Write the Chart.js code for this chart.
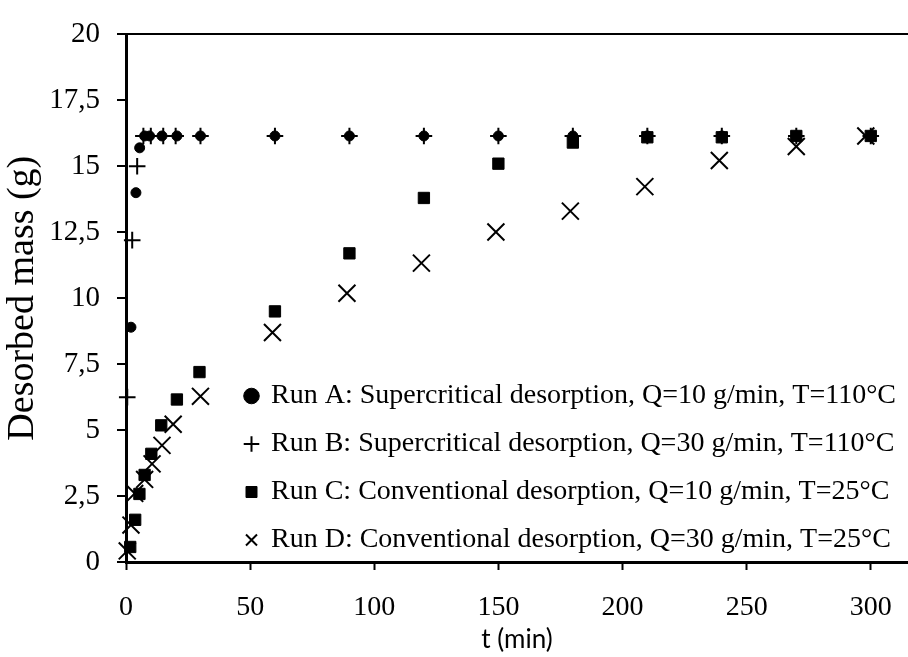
<!DOCTYPE html>
<html>
<head>
<meta charset="utf-8">
<script src="https://cdn.jsdelivr.net/npm/chart.js@4.4.0/dist/chart.umd.min.js"></script>
<style>
  body { margin: 0; background: #fff; }
  #wrap { width: 908px; height: 657px; }
</style>
</head>
<body>
<div id="wrap"><canvas id="desorption" width="908" height="657"></canvas></div>
<script>
// time (min) and desorbed mass (g)
const runA_t = [2, 4, 5.5, 7.5, 9.5, 14.5, 20.5, 30, 60, 90, 120, 150, 180, 210, 240, 270, 300];
const runA_m = [8.9, 14.0, 15.7, 16.15, 16.15, 16.15, 16.15, 16.15, 16.15, 16.15, 16.15, 16.15, 16.15, 16.15, 16.15, 16.15, 16.15];

const runB_t = [0.5, 2.5, 4.5, 7, 10, 15, 20, 30, 60, 90, 120, 150, 180, 210, 240, 270, 300];
const runB_m = [6.25, 12.2, 15.0, 16.15, 16.15, 16.15, 16.15, 16.15, 16.15, 16.15, 16.15, 16.15, 16.15, 16.15, 16.15, 16.15, 16.15];

const runC_t = [1.7, 3.7, 5.4, 7.5, 10.2, 14.2, 20.5, 29.6, 60, 90, 120, 150, 180, 210, 240, 270, 300];
const runC_m = [0.57, 1.6, 2.58, 3.3, 4.1, 5.18, 6.16, 7.2, 9.5, 11.7, 13.8, 15.1, 15.9, 16.1, 16.1, 16.15, 16.15];

const runD_t = [0.5, 2, 3.5, 7.5, 10.5, 14.5, 19, 30, 59, 89, 119, 149, 179, 209, 239, 270, 298];
const runD_m = [0.42, 1.4, 2.6, 3.13, 3.72, 4.42, 5.22, 6.28, 8.7, 10.19, 11.33, 12.51, 13.3, 14.23, 15.22, 15.75, 16.15];

const labels = [
    'Run A: Supercritical desorption, Q=10 g/min, T=110°C',
    'Run B: Supercritical desorption, Q=30 g/min, T=110°C',
    'Run C: Conventional desorption, Q=10 g/min, T=25°C',
    'Run D: Conventional desorption, Q=30 g/min, T=25°C'
];

const yTicks = [0, 2.5, 5, 7.5, 10, 12.5, 15, 17.5, 20];
const xTicks = [0, 50, 100, 150, 200, 250, 300];

function pts(t, m) {
    return t.map((v, i) => ({ x: v, y: m[i] }));
}

const serif = 'Liberation Serif';

// move the legend into the lower right part of the plot
const legendShift = {
    id: 'legendShift',
    afterLayout(chart) {
        chart.legend.left = chart.chartArea.left + 100;
        chart.legend.bottom = chart.chartArea.bottom + 12;
    }
};

const ctx = document.getElementById('desorption').getContext('2d');
const chart = new Chart(ctx, {
    type: 'scatter',
    data: {
        datasets: [
            {
                label: labels[0],
                data: pts(runA_t, runA_m),
                pointStyle: 'circle',
                pointRadius: 5,
                backgroundColor: '#000',
                borderColor: '#000',
                borderWidth: 1,
                clip: false
            },
            {
                label: labels[1],
                data: pts(runB_t, runB_m),
                pointStyle: 'cross',
                pointRadius: 8.3,
                backgroundColor: '#000',
                borderColor: '#000',
                borderWidth: 2,
                clip: false
            },
            {
                label: labels[2],
                data: pts(runC_t, runC_m),
                pointStyle: 'rect',
                pointRadius: 8,
                backgroundColor: '#000',
                borderColor: '#000',
                borderWidth: 1,
                clip: false
            },
            {
                label: labels[3],
                data: pts(runD_t, runD_m),
                pointStyle: 'crossRot',
                pointRadius: 12,
                backgroundColor: '#000',
                borderColor: '#000',
                borderWidth: 2,
                clip: false
            }
        ]
    },
    options: {
        responsive: false,
        animation: false,
        layout: { autoPadding: false, padding: { top: 32, left: 0, right: 0, bottom: 0 } },
        plugins: {
            tooltip: { enabled: false },
            legend: {
                position: 'chartArea',
                align: 'end',
                labels: {
                    usePointStyle: true,
                    boxWidth: 11,
                    boxHeight: 11,
                    padding: 20,
                    color: '#000',
                    font: { family: serif, size: 28 }
                }
            }
        },
        scales: {
            x: {
                type: 'linear',
                min: 0,
                max: 315,
                afterBuildTicks: (axis) => {
                    axis.ticks = xTicks.map(v => ({ value: v }));
                },
                afterFit: (scale) => {
                    scale.height = 95;
                    scale.paddingRight = 0;
                    scale.paddingLeft = 0;
                },
                border: { color: '#000', width: 3 },
                grid: { drawOnChartArea: false, tickLength: 8, tickColor: '#000', tickWidth: 2 },
                ticks: { color: '#000', padding: 21, maxRotation: 0, font: { family: serif, size: 28 } },
                title: {
                    display: true,
                    text: 't (min)',
                    color: '#000',
                    padding: { top: 0, bottom: 2 },
                    font: { family: 'Lato', size: 26 }
                }
            },
            y: {
                type: 'linear',
                min: 0,
                max: 20,
                afterBuildTicks: (axis) => {
                    axis.ticks = yTicks.map(v => ({ value: v }));
                },
                afterFit: (scale) => { scale.width = 126; },
                border: { color: '#000', width: 3 },
                grid: {
                    color: (c) => (c.tick && c.tick.value === 20 ? '#000' : 'rgba(0,0,0,0)'),
                    lineWidth: 2,
                    tickLength: 9,
                    tickColor: '#000',
                    tickWidth: 2
                },
                ticks: {
                    color: '#000',
                    padding: 17,
                    font: { family: serif, size: 29 },
                    callback: (v) => String(v).replace('.', ',')
                },
                title: {
                    display: true,
                    text: 'Desorbed mass (g)',
                    color: '#000',
                    padding: { top: 0, bottom: 0 },
                    font: { family: serif, size: 38 }
                }
            }
        }
    },
    plugins: [legendShift]
});
</script>
</body>
</html>
